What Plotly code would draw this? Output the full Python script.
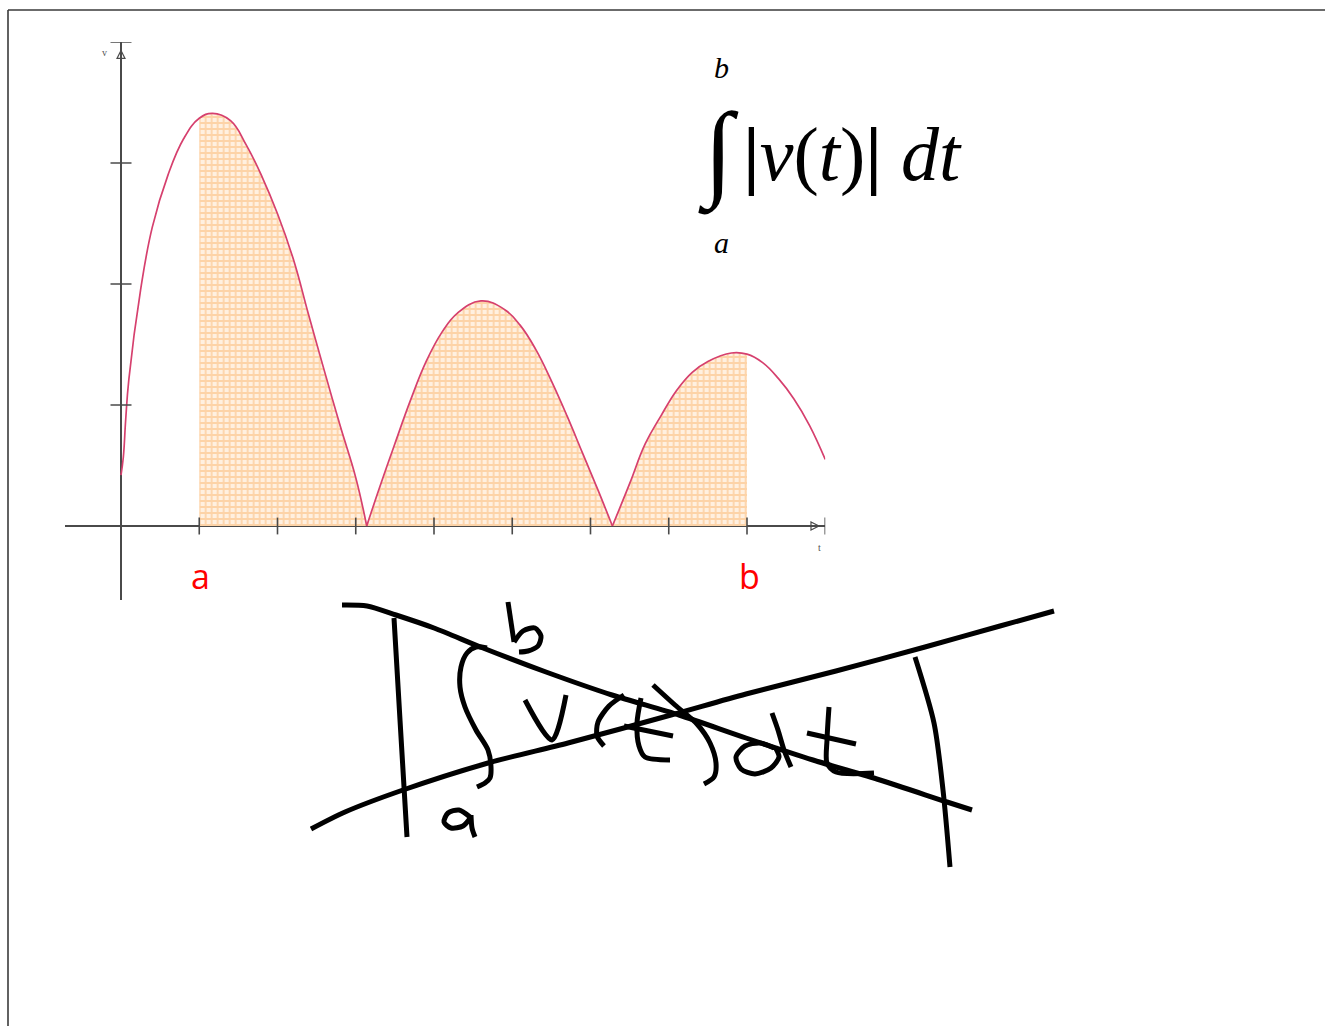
import plotly.graph_objects as go

# ---- |v(t)| readings, one list per arch (arches meet at the zeros) ----
t_arch1 = [0, 0.03, 0.06, 0.1, 0.25, 0.4, 0.6, 0.8, 1.0, 1.17, 1.4, 1.6, 1.8, 2.0, 2.2, 2.4, 2.6, 2.8, 3.0, 3.14]
v_arch1 = [0.42, 0.57, 0.88, 1.21, 1.95, 2.47, 2.9, 3.2, 3.37, 3.41, 3.35, 3.15, 2.89, 2.58, 2.21, 1.74, 1.28, 0.83, 0.4, 0]
t_arch2 = [3.14, 3.3, 3.5, 3.7, 3.9, 4.1, 4.3, 4.6, 4.9, 5.1, 5.3, 5.5, 5.7, 5.9, 6.1, 6.28]
v_arch2 = [0, 0.31, 0.68, 1.04, 1.36, 1.6, 1.76, 1.86, 1.79, 1.66, 1.46, 1.2, 0.91, 0.6, 0.29, 0]
t_arch3 = [6.28, 6.5, 6.7, 6.9, 7.1, 7.3, 7.5, 7.8, 8.0, 8.2, 8.4, 8.6, 8.8, 9.0]
v_arch3 = [0, 0.35, 0.68, 0.91, 1.12, 1.27, 1.36, 1.43, 1.42, 1.35, 1.22, 1.05, 0.83, 0.55]

a_bound, b_bound = 1, 8            # integration limits
t_ticks = [1, 2, 3, 4, 5, 6, 7, 8, 9]
v_ticks = [1, 2, 3, 4]
t_range = [-0.72, 9.0]
v_range = [-0.6116, 4.0]

W, H = 1325, 1026
CURVE = "#d6406e"
AXIS = "#4a4a4a"

fig = go.Figure()

arches = [(t_arch1, v_arch1), (t_arch2, v_arch2), (t_arch3, v_arch3)]

# shaded area under |v(t)| between a and b
for ts, vs in arches:
    pts = [(t, v) for t, v in zip(ts, vs) if a_bound <= t <= b_bound]
    if len(pts) < 2:
        continue
    fig.add_trace(go.Scatter(
        x=[p[0] for p in pts], y=[p[1] for p in pts],
        mode="lines", line=dict(width=0, shape="spline", smoothing=1.2),
        fill="tozeroy", fillcolor="#fee3c6",
        fillpattern=dict(shape="+", fgcolor="#fbb56e", bgcolor="#fff0e0",
                         size=6, solidity=0.5),
        hoverinfo="skip", showlegend=False, xaxis="x", yaxis="y"))

# the speed curve itself
for ts, vs in arches:
    fig.add_trace(go.Scatter(
        x=ts, y=vs, mode="lines",
        line=dict(color=CURVE, width=1.7, shape="spline", smoothing=1.2),
        hoverinfo="skip", showlegend=False, xaxis="x", yaxis="y"))

# tick marks crossing the axes
fig.add_trace(go.Scatter(
    x=t_ticks, y=[0] * len(t_ticks), mode="markers",
    marker=dict(symbol="line-ns", size=12, color=AXIS, line=dict(color=AXIS, width=1.6)),
    hoverinfo="skip", showlegend=False, xaxis="x", yaxis="y"))
fig.add_trace(go.Scatter(
    x=[0] * len(v_ticks), y=v_ticks, mode="markers",
    marker=dict(symbol="line-ew", size=15, color=AXIS, line=dict(color=AXIS, width=1.6)),
    hoverinfo="skip", showlegend=False, xaxis="x", yaxis="y"))
# arrow heads at the axis ends
fig.add_trace(go.Scatter(
    x=[t_range[1] - 0.08, 0], y=[0, v_range[1] - 0.07], mode="markers",
    marker=dict(symbol=["arrow-right-open", "arrow-up-open"], size=8, color=AXIS,
                line=dict(color=AXIS, width=1.2)),
    hoverinfo="skip", showlegend=False, xaxis="x", yaxis="y"))

# ---- handwritten ink (page pixel units) ----
pen_strokes = [
    # descending cross line
    [(342, 605), (367, 606), (396, 615), (434, 628), (483, 648), (546, 672), (612, 695),
     (679, 715), (746, 738), (813, 760), (880, 780), (947, 802), (972, 810)],
    # ascending cross line
    [(311, 829), (345, 812), (403, 790), (488, 763), (568, 743), (671, 715), (746, 694),
     (836, 671), (925, 647), (1000, 626), (1054, 611)],
    # absolute value bars
    [(394, 618), (400, 720), (407, 837)],
    [(915, 657), (934, 723), (943, 790), (950, 867)],
    # integral sign
    [(487, 648), (476, 647), (467, 653), (461, 667), (460, 687), (465, 707), (476, 730),
     (488, 750), (491, 767), (490, 778), (485, 783), (477, 787)],
    # upper limit b
    [(508, 602), (511, 622), (514, 642)],
    [(514, 642), (523, 631), (535, 628), (541, 636), (538, 646), (528, 651), (519, 652)],
    # lower limit a
    [(470, 817), (459, 810), (448, 813), (444, 822), (451, 828), (463, 826), (471, 817)],
    [(471, 815), (472, 828), (475, 837)],
    # v
    [(525, 700), (552, 740), (566, 695)],
    # (
    [(624, 695), (609, 706), (598, 722), (597, 736), (604, 746)],
    # t
    [(641, 698), (637, 723), (639, 746), (645, 757), (670, 760)],
    [(624, 726), (673, 736)],
    # )
    [(653, 685), (675, 705), (697, 724), (710, 743), (716, 763), (714, 777), (704, 784)],
    # d
    [(774, 748), (760, 743), (745, 746), (736, 757), (741, 769), (755, 774), (771, 768),
     (779, 757), (775, 747)],
    [(772, 713), (778, 730), (784, 750), (791, 767)],
    # t
    [(829, 707), (827, 740), (827, 763), (836, 772), (874, 773)],
    [(807, 733), (856, 744)],
]
for stroke in pen_strokes:
    fig.add_trace(go.Scatter(
        x=[p[0] for p in stroke], y=[p[1] for p in stroke], mode="lines",
        line=dict(color="black", width=5, shape="spline", smoothing=0.8),
        hoverinfo="skip", showlegend=False, xaxis="x2", yaxis="y2"))


def txt(x, y, text, size, color="black", family="Liberation Serif", **kw):
    fig.add_annotation(x=x, y=y, xref="x2", yref="y2", text=text, showarrow=False,
                       font=dict(size=size, color=color, family=family),
                       xanchor="center", yanchor="middle", **kw)


# axis names
txt(104, 52, "v", 10, "#555")
txt(819, 547, "t", 10, "#555")
# limits under the axis
txt(200, 576, "a", 34, "#ff0000", "Open Sans")
txt(749, 576, "b", 34, "#ff0000", "Open Sans")
# typeset formula
txt(721, 67, "<i>b</i>", 30)
txt(721, 242, "<i>a</i>", 30)
txt(718, 153, "<b>∫</b>", 106)
txt(852, 154, "<b>|</b><i>v</i>(<i>t</i>)<b>|</b> <i>dt</i>", 76)

# slide frame
fig.add_shape(type="line", xref="x2", yref="y2", x0=8, y0=10, x1=W, y1=10,
              line=dict(color="#3a3a3a", width=1.6))
fig.add_shape(type="line", xref="x2", yref="y2", x0=8, y0=10, x1=8, y1=H,
              line=dict(color="#3a3a3a", width=1.6))

x_lo = 121 + t_range[0] * 78.25
x_hi = 121 + t_range[1] * 78.25
y_top = 526 - v_range[1] * 121
y_bot = 526 - v_range[0] * 121

hidden = dict(showgrid=False, showticklabels=False, ticks="", showline=False)
fig.update_layout(
    width=W, height=H, autosize=False,
    margin=dict(l=0, r=0, t=0, b=0, pad=0),
    paper_bgcolor="white", plot_bgcolor="rgba(0,0,0,0)",
    xaxis=dict(domain=[x_lo / W, x_hi / W], range=t_range, zeroline=True,
               zerolinecolor=AXIS, zerolinewidth=1.6, anchor="y", **hidden),
    yaxis=dict(domain=[1 - y_bot / H, 1 - y_top / H], range=v_range, zeroline=True,
               zerolinecolor=AXIS, zerolinewidth=1.6, anchor="x", **hidden),
    xaxis2=dict(domain=[0, 1], range=[0, W], anchor="y2", visible=False),
    yaxis2=dict(domain=[0, 1], range=[H, 0], anchor="x2", visible=False),
)

fig.write_html("out.html")
